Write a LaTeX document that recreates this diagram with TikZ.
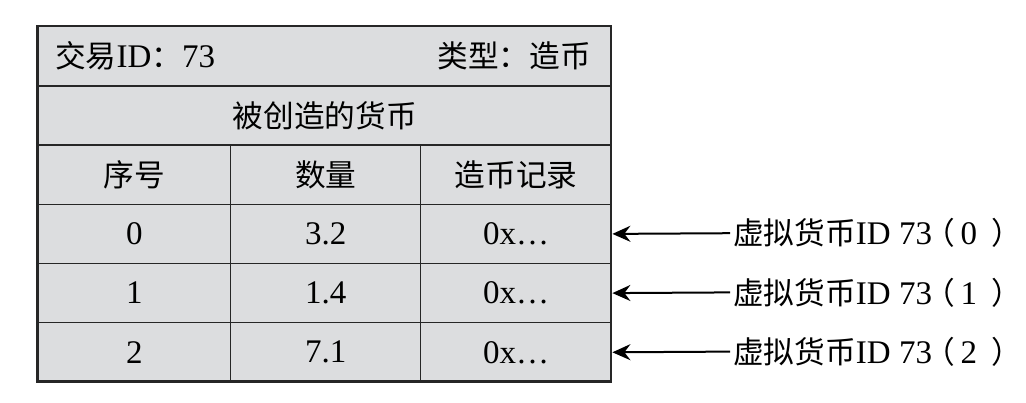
\documentclass[tikz,border=0pt]{standalone}
\usepackage{fontspec}
\setmainfont{Liberation Serif}
\newfontfamily\cjk[Scale=0.93]{Noto Sans CJK SC}
\usetikzlibrary{arrows.meta}
\definecolor{cellgray}{RGB}{220,221,223}
\newcommand{\vlabel}[1]{{\cjk 虚拟货币}ID 73\kern-8pt{\cjk （}\kern6pt #1\kern14pt{\cjk ）}}
\begin{document}
\begin{tikzpicture}[x=1pt,y=-1pt,
  cell/.style={draw=black!85, line width=1.4pt, fill=cellgray, inner sep=0pt,
    anchor=north west, minimum height=59.2pt},
  txt/.style={inner sep=0pt, font=\fontsize{33}{38}\selectfont},
  lbl/.style={inner sep=3pt, anchor=west, font=\fontsize{33}{38}\selectfont},
  arr/.style={-{Stealth[length=18pt,width=16pt,inset=6pt]}, line width=2pt}]
\useasboundingbox (0,0) rectangle (1026,402);
% header rows
\node[cell, minimum width=573.5pt] (hdr) at (37.5,26) {};
\node[cell, minimum width=573.5pt] (title) at (37.5,85.2) {};
\node[txt, anchor=west] (txid) at (55,55.6) {{\cjk 交易}ID{\cjk ：}73};
\node[txt, anchor=east] (type) at (591,55.6) {{\cjk 类型：造币}};
\node[txt] (ttl) at (hdr.center |- title.center) {{\cjk 被创造的货币}};
% column header
\node[cell, minimum width=192.5pt] (h0) at (37.5,144.4) {};
\node[cell, minimum width=190pt] (h1) at (230,144.4) {};
\node[cell, minimum width=191pt] (h2) at (420,144.4) {};
\node[txt] at (h0.center) {{\cjk 序号}};
\node[txt] at (h1.center) {{\cjk 数量}};
\node[txt] at (h2.center) {{\cjk 造币记录}};
% data rows
\node[cell, minimum width=192.5pt] (r0c0) at (37.5,203.6) {};
\node[cell, minimum width=190pt] (r0c1) at (230,203.6) {};
\node[cell, minimum width=191pt] (r0c2) at (420,203.6) {};
\node[cell, minimum width=192.5pt] (r1c0) at (37.5,262.8) {};
\node[cell, minimum width=190pt] (r1c1) at (230,262.8) {};
\node[cell, minimum width=191pt] (r1c2) at (420,262.8) {};
\node[cell, minimum width=192.5pt] (r2c0) at (37.5,322) {};
\node[cell, minimum width=190pt] (r2c1) at (230,322) {};
\node[cell, minimum width=191pt] (r2c2) at (420,322) {};
\node[txt] at (r0c0.center) {0};
\node[txt] at (r0c1.center) {3.2};
\node[txt] at (r0c2.center) {0x…};
\node[txt] at (r1c0.center) {1};
\node[txt] at (r1c1.center) {1.4};
\node[txt] at (r1c2.center) {0x…};
\node[txt] at (r2c0.center) {2};
\node[txt] at (r2c1.center) {7.1};
\node[txt] at (r2c2.center) {0x…};
% outer border
\draw[line width=2.6pt, black!85] (37.5,26) rectangle (611,381.2);
% labels and arrows
\node[lbl] (l0) at (730,233.2) {\vlabel{0}};
\node[lbl] (l1) at (730,292.4) {\vlabel{1}};
\node[lbl] (l2) at (730,351.6) {\vlabel{2}};
\draw[arr] (l0.west) -- (r0c2.east);
\draw[arr] (l1.west) -- (r1c2.east);
\draw[arr] (l2.west) -- (r2c2.east);
\end{tikzpicture}
\end{document}
